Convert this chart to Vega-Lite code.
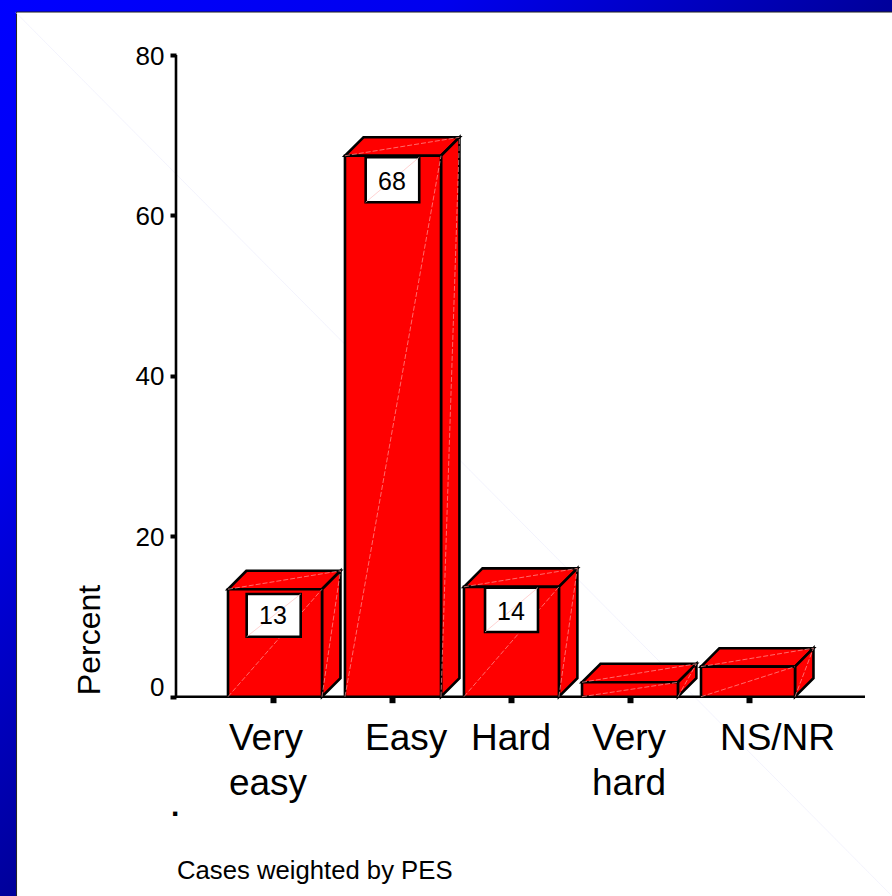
{"$schema":"https://vega.github.io/schema/vega-lite/v6.json","width":892,"height":896,"padding":0,"autosize":"none","background":"white","config":{"view":{"stroke":null},"font":"Liberation Sans"},
"datasets":{
"panels":[{"name":"frame","x":-1.294,"x2":6.202,"y":-24.85,"y2":86.87}],
"paper":[{"name":"paper","x":-1.155,"x2":6.5,"y":-30,"y2":85.37}],
"diag":[{"x":-1.16,"y":85.3,"x2":6.202,"y2":-24.85}],
"bars":[
{"cat":"Very easy","left":0.622,"right":1.412,"value":13.4,"base":0,"backLeft":0.777,"backRight":1.567,"backValue":15.7,"label":"Very\neasy","labelX":0.63,"labelY":-6.65},
{"cat":"Easy","left":1.605,"right":2.412,"value":67.45,"base":0,"backLeft":1.76,"backRight":2.567,"backValue":69.75,"label":"Easy","labelX":1.773,"labelY":-6.65},
{"cat":"Hard","left":2.605,"right":3.403,"value":13.7,"base":0,"backLeft":2.76,"backRight":3.558,"backValue":16.0,"label":"Hard","labelX":2.664,"labelY":-6.65},
{"cat":"Very hard","left":3.597,"right":4.403,"value":1.8,"base":0,"backLeft":3.752,"backRight":4.558,"backValue":4.1,"label":"Very\nhard","labelX":3.681,"labelY":-6.65},
{"cat":"NS/NR","left":4.597,"right":5.387,"value":3.75,"base":0,"backLeft":4.752,"backRight":5.542,"backValue":6.05,"label":"NS/NR","labelX":4.756,"labelY":-6.65}],
"side":[
{"bar":"Very easy","x":1.412,"y":13.4,"y2":0},{"bar":"Very easy","x":1.567,"y":15.7,"y2":2.3},
{"bar":"Easy","x":2.412,"y":67.45,"y2":0},{"bar":"Easy","x":2.567,"y":69.75,"y2":2.3},
{"bar":"Hard","x":3.403,"y":13.7,"y2":0},{"bar":"Hard","x":3.558,"y":16.0,"y2":2.3},
{"bar":"Very hard","x":4.403,"y":1.8,"y2":0},{"bar":"Very hard","x":4.558,"y":4.1,"y2":2.3},
{"bar":"NS/NR","x":5.387,"y":3.75,"y2":0},{"bar":"NS/NR","x":5.542,"y":6.05,"y2":2.3}],
"top":[
{"bar":"Very easy","y":13.4,"x":0.622,"x2":1.412},{"bar":"Very easy","y":15.7,"x":0.777,"x2":1.567},
{"bar":"Easy","y":67.45,"x":1.605,"x2":2.412},{"bar":"Easy","y":69.75,"x":1.76,"x2":2.567},
{"bar":"Hard","y":13.7,"x":2.605,"x2":3.403},{"bar":"Hard","y":16.0,"x":2.76,"x2":3.558},
{"bar":"Very hard","y":1.8,"x":3.597,"x2":4.403},{"bar":"Very hard","y":4.1,"x":3.752,"x2":4.558},
{"bar":"NS/NR","y":3.75,"x":4.597,"x2":5.387},{"bar":"NS/NR","y":6.05,"x":4.752,"x2":5.542}],
"boxes":[
{"text":"13","x":0.779,"x2":1.233,"y":7.48,"y2":12.8,"tx":1.0,"ty":10.1},
{"text":"68","x":1.779,"x2":2.229,"y":61.65,"y2":67.26,"tx":2.0,"ty":64.2},
{"text":"14","x":2.782,"x2":3.227,"y":8.07,"y2":13.6,"tx":3.0,"ty":10.6}],
"notes":[{"text":"Cases weighted by PES","x":0.193,"y":-22.7}],
"dot":[{"text":".","x":0.178,"y":-14.87}],
"ytitle":[{"text":"Percent","x":-0.538,"y":7.07}],
"xline":[{"x":0.176,"x2":5.975,"y":0}],
"yline":[{"x":0.185,"y":0,"y2":80}]
},
"layer":[
{"data":{"name":"panels"},"mark":{"type":"rect","fill":{"gradient":"linear","x1":0,"y1":0,"x2":1,"y2":1,"stops":[{"offset":0,"color":"#0000ff"},{"offset":0.25,"color":"#0000ee"},{"offset":0.5,"color":"#00009c"},{"offset":1,"color":"#000070"}]}},
"encoding":{"x":{"field":"x","type":"quantitative","scale":{"domain":[-1.294,6.202],"nice":false,"zero":false},
"axis":{"values":[1,2,3,4,5],"labels":false,"domain":false,"grid":false,"title":null,"orient":"bottom","offset":-199.3,"tickSize":6,"tickWidth":6,"tickColor":"black","zindex":1}},"x2":{"field":"x2"},
"y":{"field":"y","type":"quantitative","scale":{"domain":[-24.85,86.87],"nice":false,"zero":false},
"axis":{"values":[0,20,40,60,80],"domain":false,"grid":false,"title":null,"orient":"left","offset":-176,"tickSize":6,"tickWidth":4,"tickColor":"black","labelFontSize":26,"labelColor":"black","labelPadding":6,"labelFont":"Liberation Sans","zindex":1,"labelOffset":{"condition":{"test":"datum.value === 0","value":-9},"value":1}}},"y2":{"field":"y2"}}},
{"data":{"name":"paper"},"mark":{"type":"rect","fill":"white","stroke":"#222222","strokeWidth":1},
"encoding":{"x":{"field":"x","type":"quantitative"},"x2":{"field":"x2"},"y":{"field":"y","type":"quantitative"},"y2":{"field":"y2"}}},
{"data":{"name":"diag"},"mark":{"type":"rule","stroke":"#f0f0fc","strokeWidth":0.8},
"encoding":{"x":{"field":"x","type":"quantitative"},"x2":{"field":"x2"},"y":{"field":"y","type":"quantitative"},"y2":{"field":"y2"}}},
{"data":{"name":"yline"},"mark":{"type":"rule","stroke":"black","strokeWidth":2.6},
"encoding":{"x":{"field":"x","type":"quantitative"},"y":{"field":"y","type":"quantitative"},"y2":{"field":"y2"}}},
{"data":{"name":"xline"},"mark":{"type":"rule","stroke":"black","strokeWidth":2.6},
"encoding":{"x":{"field":"x","type":"quantitative"},"x2":{"field":"x2"},"y":{"field":"y","type":"quantitative"}}},
{"data":{"name":"top"},"mark":{"type":"area","orient":"horizontal","fill":"#ff0000","stroke":"black","strokeWidth":2.6},
"encoding":{"detail":{"field":"bar","type":"nominal"},"x":{"field":"x","type":"quantitative"},"x2":{"field":"x2"},"y":{"field":"y","type":"quantitative"}}},
{"data":{"name":"side"},"mark":{"type":"area","orient":"vertical","fill":"#ff0000","stroke":"black","strokeWidth":2.6},
"encoding":{"detail":{"field":"bar","type":"nominal"},"x":{"field":"x","type":"quantitative"},"y":{"field":"y","type":"quantitative"},"y2":{"field":"y2"}}},
{"data":{"name":"bars"},"mark":{"type":"rect","fill":"#ff0000","stroke":"black","strokeWidth":2.6},
"encoding":{"x":{"field":"left","type":"quantitative"},"x2":{"field":"right"},"y":{"field":"value","type":"quantitative"},"y2":{"field":"base"}}},
{"data":{"name":"bars"},"mark":{"type":"rule","stroke":"#ff9a9a","strokeWidth":0.7,"strokeDash":[5,2]},
"encoding":{"x":{"field":"left","type":"quantitative"},"x2":{"field":"right"},"y":{"field":"base","type":"quantitative"},"y2":{"field":"value"}}},
{"data":{"name":"bars"},"mark":{"type":"rule","stroke":"#ff9a9a","strokeWidth":0.7,"strokeDash":[5,2]},
"encoding":{"x":{"field":"left","type":"quantitative"},"x2":{"field":"backRight"},"y":{"field":"value","type":"quantitative"},"y2":{"field":"backValue"}}},
{"data":{"name":"bars"},"mark":{"type":"rule","stroke":"#ff9a9a","strokeWidth":0.7,"strokeDash":[5,2]},
"encoding":{"x":{"field":"right","type":"quantitative"},"x2":{"field":"backRight"},"y":{"field":"base","type":"quantitative"},"y2":{"field":"backValue"}}},
{"data":{"name":"boxes"},"mark":{"type":"rect","fill":"white","stroke":"black","strokeWidth":2.6},
"encoding":{"x":{"field":"x","type":"quantitative"},"x2":{"field":"x2"},"y":{"field":"y","type":"quantitative"},"y2":{"field":"y2"}}},
{"data":{"name":"boxes"},"mark":{"type":"rule","stroke":"#ffc0c0","strokeWidth":0.7},
"encoding":{"x":{"field":"x","type":"quantitative"},"x2":{"field":"x2"},"y":{"field":"y","type":"quantitative"},"y2":{"field":"y2"}}},
{"data":{"name":"boxes"},"mark":{"type":"text","font":"Liberation Sans","fontSize":25,"color":"black","align":"center","baseline":"middle"},
"encoding":{"text":{"field":"text","type":"nominal"},"x":{"field":"tx","type":"quantitative"},"y":{"field":"ty","type":"quantitative"}}},
{"data":{"name":"bars"},"mark":{"type":"text","font":"Liberation Sans","fontSize":37,"color":"black","align":"left","baseline":"alphabetic","lineBreak":"\n","lineHeight":45},
"encoding":{"text":{"field":"label","type":"nominal"},"x":{"field":"labelX","type":"quantitative"},"y":{"field":"labelY","type":"quantitative"}}},
{"data":{"name":"notes"},"mark":{"type":"text","font":"Liberation Sans","fontSize":25.7,"color":"black","align":"left","baseline":"alphabetic"},
"encoding":{"text":{"field":"text","type":"nominal"},"x":{"field":"x","type":"quantitative"},"y":{"field":"y","type":"quantitative"}}},
{"data":{"name":"dot"},"mark":{"type":"text","font":"Liberation Sans","fontSize":30,"fontWeight":"bold","color":"black","align":"center","baseline":"alphabetic"},
"encoding":{"text":{"field":"text","type":"nominal"},"x":{"field":"x","type":"quantitative"},"y":{"field":"y","type":"quantitative"}}},
{"data":{"name":"ytitle"},"mark":{"type":"text","font":"Liberation Sans","fontSize":32,"color":"black","align":"center","baseline":"middle","angle":270},
"encoding":{"text":{"field":"text","type":"nominal"},"x":{"field":"x","type":"quantitative"},"y":{"field":"y","type":"quantitative"}}}
]}
